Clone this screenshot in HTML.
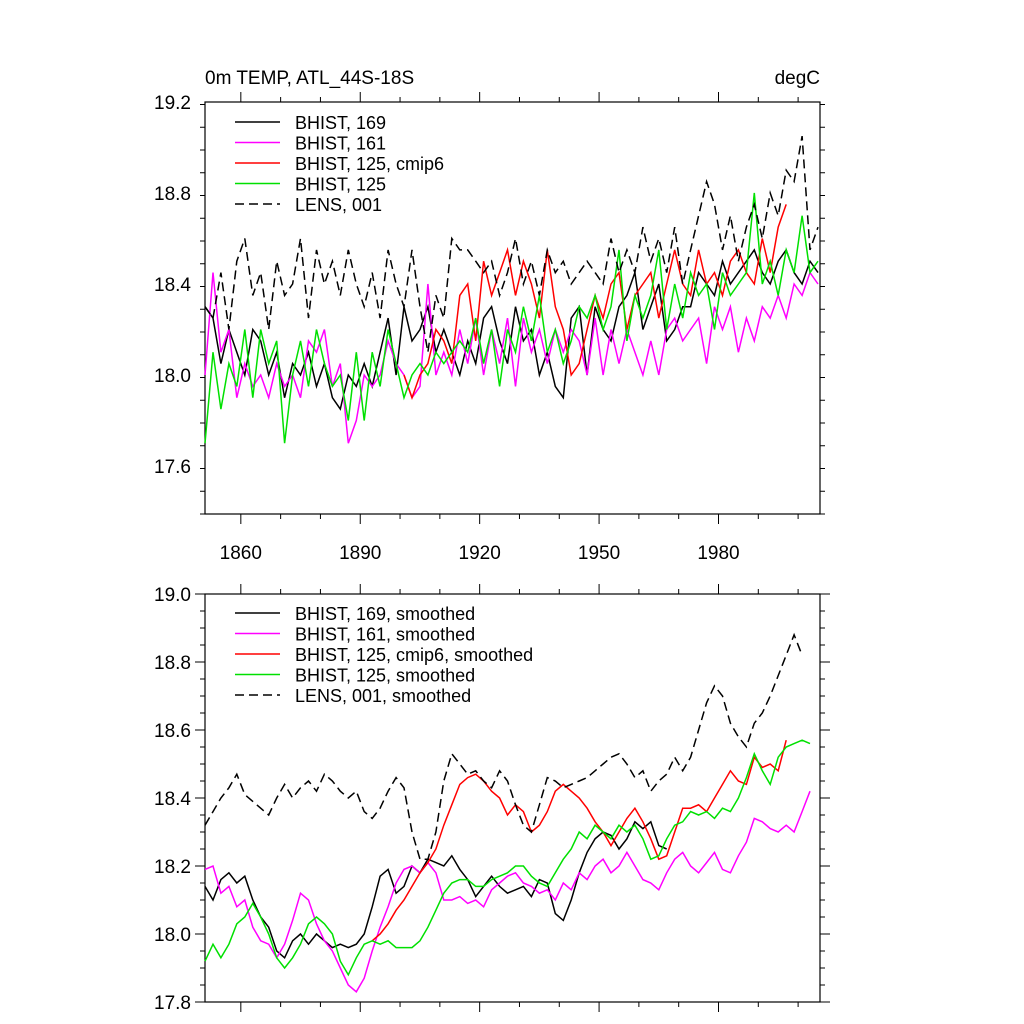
<!DOCTYPE html>
<html><head><meta charset="utf-8"><style>
body{margin:0;background:#fff;}
svg{display:block;font-family:"Liberation Sans",sans-serif;}
</style></head><body>
<svg id="chart" width="1024" height="1024" viewBox="0 0 1024 1024" xmlns="http://www.w3.org/2000/svg">
<rect x="0" y="0" width="1024" height="1024" fill="#fff"/>
<text x="205" y="84" font-size="19">0m TEMP, ATL_44S-18S</text>
<text x="820" y="84" font-size="19" text-anchor="end">degC</text>
<g id="top"></g>
<g id="bot"></g>
</svg>
<script>
const startYear = 1851, yearStep = 2;
const xTickLabels = [1860, 1890, 1920, 1950, 1980];
const topYTicks = [17.6, 18.0, 18.4, 18.8, 19.2];
const botYTicks = [17.8, 18.0, 18.2, 18.4, 18.6, 18.8, 19.0];
const N = null;
const topB169 = [18.30,18.25,18.05,18.20,18.10,18.00,18.20,18.15,18.00,18.10,
17.90,18.05,18.00,18.10,17.95,18.05,17.90,17.85,18.00,17.95,
18.05,17.95,18.10,18.25,18.00,18.30,18.15,18.20,18.30,18.10,
18.20,18.10,18.00,18.15,18.05,18.25,18.30,18.15,18.05,18.30,
18.15,18.20,18.00,18.10,17.95,17.90,18.25,18.30,18.00,18.30,
18.20,18.15,18.30,18.35,18.45,18.20,18.30,18.40,18.15,18.20,
18.30,18.30,18.45,18.40,18.35,18.50,18.40,18.45,18.50,18.55,
18.45,18.40,18.50,18.55,18.45,18.40,18.50,18.45];
const topB161 = [18.00,18.45,18.10,18.20,17.90,18.05,17.95,18.00,17.90,18.05,
17.95,18.00,17.90,18.15,18.10,18.20,17.95,18.05,17.70,17.80,
18.00,17.95,18.00,18.15,18.05,18.00,17.90,17.95,18.40,18.00,
18.10,18.00,18.20,18.05,18.25,18.00,18.20,18.05,18.25,17.95,
18.25,18.10,18.20,18.05,18.20,18.10,18.20,18.15,18.00,18.25,
18.00,18.20,18.05,18.20,18.10,18.00,18.15,18.00,18.20,18.25,
18.15,18.20,18.25,18.05,18.30,18.20,18.30,18.10,18.25,18.15,
18.30,18.25,18.35,18.25,18.40,18.35,18.45,18.40];
const topCmip6 = [N,N,N,N,N,N,N,N,N,N,N,N,N,N,N,N,N,N,N,N,N,N,N,N,N,
18.00,17.90,18.00,18.05,18.20,
18.15,18.05,18.35,18.40,18.15,18.50,18.35,18.45,18.55,18.35,
18.50,18.40,18.25,18.55,18.30,18.20,18.00,18.05,18.20,18.35,
18.25,18.40,18.45,18.20,18.35,18.40,18.45,18.25,18.40,18.55,
18.40,18.35,18.55,18.40,18.45,18.35,18.50,18.55,18.45,18.40,
18.60,18.45,18.65,18.75,N,N,N,N];
const topB125 = [17.70,18.10,17.85,18.05,17.95,18.20,17.90,18.20,18.05,18.15,
17.70,18.00,18.15,17.95,18.20,18.05,17.95,18.00,17.80,18.10,
17.80,18.10,17.95,18.20,18.05,17.90,18.00,18.05,18.00,18.10,
18.05,18.10,18.15,18.10,18.25,18.05,18.20,17.95,18.20,18.10,
18.30,18.15,18.35,18.10,18.20,18.05,18.15,18.30,18.25,18.35,
18.20,18.30,18.55,18.15,18.35,18.25,18.35,18.55,18.20,18.40,
18.25,18.45,18.35,18.40,18.20,18.45,18.35,18.40,18.45,18.80,
18.40,18.50,18.35,18.55,18.45,18.70,18.45,18.50];
const topLens = [18.30,18.25,18.45,18.20,18.50,18.60,18.35,18.45,18.20,18.50,
18.35,18.40,18.60,18.25,18.55,18.40,18.50,18.35,18.55,18.40,
18.30,18.45,18.25,18.55,18.40,18.30,18.55,18.30,18.10,18.35,
18.25,18.60,18.55,18.55,18.50,18.45,18.50,18.35,18.45,18.60,
18.40,18.50,18.35,18.55,18.45,18.50,18.40,18.45,18.50,18.45,
18.40,18.60,18.45,18.55,18.45,18.65,18.50,18.60,18.45,18.65,
18.40,18.55,18.70,18.85,18.75,18.55,18.70,18.50,18.65,18.75,
18.60,18.80,18.70,18.90,18.85,19.05,18.55,18.65];
const botB169 = [18.14,18.10,18.16,18.18,18.15,18.17,18.10,18.05,18.02,17.95,
17.93,17.98,18.00,17.97,18.00,17.98,17.96,17.97,17.96,17.97,
18.00,18.08,18.17,18.19,18.12,18.14,18.20,18.18,18.22,18.21,
18.20,18.23,18.19,18.16,18.11,18.14,18.17,18.14,18.12,18.13,
18.14,18.11,18.16,18.15,18.06,18.04,18.10,18.18,18.24,18.28,
18.30,18.29,18.25,18.28,18.33,18.31,18.33,18.26,18.25,
N,N,N,N,N,N,N,N,N,N,N,N,N,N,N,N,N,N,N];
const botB161 = [18.19,18.20,18.12,18.14,18.08,18.10,18.02,17.98,17.97,17.93,
17.97,18.04,18.12,18.10,18.03,17.98,17.95,17.90,17.85,17.83,
17.87,17.95,18.02,18.08,18.15,18.19,18.20,18.18,18.21,18.18,
18.10,18.10,18.11,18.09,18.10,18.08,18.13,18.15,18.17,18.18,
18.15,18.14,18.12,18.13,18.10,18.15,18.13,18.18,18.16,18.20,
18.22,18.18,18.20,18.24,18.20,18.16,18.15,18.13,18.18,18.22,
18.24,18.20,18.18,18.21,18.24,18.19,18.18,18.23,18.27,18.34,
18.33,18.31,18.30,18.32,18.30,18.36,18.42,N];
const botCmip6 = [N,N,N,N,N,N,N,N,N,N,N,N,N,N,N,N,N,N,N,N,N,
17.98,18.00,18.03,18.07,18.10,18.14,18.18,18.21,18.25,
18.32,18.38,18.44,18.46,18.47,18.45,18.42,18.40,18.35,18.38,
18.36,18.30,18.32,18.36,18.42,18.44,18.42,18.40,18.37,18.33,
18.30,18.26,18.30,18.34,18.37,18.33,18.28,18.22,18.23,18.30,
18.37,18.37,18.38,18.36,18.40,18.44,18.48,18.45,18.44,18.52,
18.49,18.50,18.48,18.57,N,N,N,N];
const botB125 = [17.92,17.97,17.93,17.97,18.03,18.05,18.09,18.05,18.00,17.93,
17.90,17.93,17.97,18.03,18.05,18.03,18.00,17.92,17.88,17.93,
17.97,17.98,17.97,17.98,17.96,17.96,17.96,17.98,18.02,18.07,
18.12,18.15,18.16,18.16,18.14,18.14,18.16,18.17,18.18,18.20,
18.20,18.17,18.15,18.14,18.18,18.22,18.25,18.30,18.28,18.32,
18.30,18.28,18.32,18.30,18.32,18.28,18.22,18.23,18.28,18.32,
18.33,18.36,18.35,18.36,18.34,18.37,18.36,18.40,18.46,18.53,
18.48,18.44,18.52,18.55,18.56,18.57,18.56,N];
const botLens = [18.32,18.36,18.40,18.43,18.47,18.41,18.39,18.37,18.35,18.40,
18.44,18.40,18.43,18.45,18.42,18.47,18.45,18.42,18.40,18.42,
18.36,18.34,18.37,18.42,18.46,18.43,18.30,18.22,18.22,18.30,
18.45,18.53,18.50,18.47,18.48,18.45,18.43,18.48,18.45,18.38,
18.32,18.30,18.38,18.46,18.45,18.43,18.44,18.45,18.46,18.48,
18.50,18.52,18.53,18.50,18.46,18.48,18.42,18.45,18.47,18.52,
18.48,18.52,18.60,18.68,18.73,18.70,18.62,18.58,18.55,18.62,
18.65,18.70,18.76,18.82,18.88,18.82,N,N];
const topLegend = ["BHIST, 169","BHIST, 161","BHIST, 125, cmip6","BHIST, 125","LENS, 001"];
const botLegend = ["BHIST, 169, smoothed","BHIST, 161, smoothed","BHIST, 125, cmip6, smoothed","BHIST, 125, smoothed","LENS, 001, smoothed"];

const NS = "http://www.w3.org/2000/svg";
function mk(tag, attrs, parent){const e=document.createElementNS(NS,tag);for(const k in attrs)e.setAttribute(k,attrs[k]);parent.appendChild(e);return e;}
const X0=205, X1=820, yr0=1851, yr1=2005.5;
function xs(y){return X0+(y-yr0)/(yr1-yr0)*(X1-X0);}

function panel(g, name, top, bottom, vmin, vmax, majors, minorStep, showX, seriesList, legend, legTop){
  const ys=v=>bottom-(v-vmin)/(vmax-vmin)*(bottom-top);
  const frame=mk('rect',{x:X0,y:top,width:X1-X0,height:bottom-top,fill:'none',stroke:'#000','stroke-width':1.2},g);
  
  
  // y ticks
  for(let v=vmin;v<=vmax+1e-6;v+=minorStep){
    const y=ys(v);
    const isMaj=majors.some(m=>Math.abs(m-v)<1e-6);
    const L=isMaj?10:5;
    mk('line',{x1:X0,x2:X0-L,y1:y,y2:y,stroke:'#000','stroke-width':1},g);
    mk('line',{x1:X1,x2:X1+L,y1:y,y2:y,stroke:'#000','stroke-width':1},g);
  }
  majors.forEach(v=>{
    const t=mk('text',{x:X0-14,y:ys(v)+7,'font-size':19,'text-anchor':'end'},g);
    t.textContent=v.toFixed(1);
    
    
  });
  // x ticks
  for(let yr=1860;yr<=2000;yr+=10){
    const x=xs(yr);
    const isMaj=xTickLabels.includes(yr);
    const L=isMaj?10:5;
    mk('line',{x1:x,x2:x,y1:bottom,y2:bottom+L,stroke:'#000','stroke-width':1},g);
    mk('line',{x1:x,x2:x,y1:top,y2:top-L,stroke:'#000','stroke-width':1},g);
  }
  if(showX){
    xTickLabels.forEach(yr=>{
      const t=mk('text',{x:xs(yr),y:bottom+45,'font-size':19,'text-anchor':'middle'},g);
      t.textContent=yr;
      
      
    });
  }
  const styles=[{c:'#000',d:''},{c:'#ff00ff',d:''},{c:'#ff0000',d:''},{c:'#00e000',d:''},{c:'#000',d:'9,5'}];
  const sNames=['bhist-169','bhist-161','bhist-125-cmip6','bhist-125','lens-001'];
  seriesList.forEach((arr,si)=>{
    let d='',pen=false;
    arr.forEach((v,i)=>{
      if(v===null){pen=false;return;}
      const x=xs(startYear+i*yearStep), y=ys(v);
      d+=(pen?'L':'M')+x.toFixed(1)+','+y.toFixed(1);pen=true;
    });
    const p=mk('path',{d:d,fill:'none',stroke:styles[si].c,'stroke-width':1.5,'stroke-dasharray':styles[si].d},g);
    
    
  });
  legend.forEach((lab,i)=>{
    const y=legTop+i*20.5;
    const l=mk('line',{x1:235,x2:280,y1:y,y2:y,stroke:styles[i].c,'stroke-width':1.5,'stroke-dasharray':styles[i].d},g);
    
    
    const t=mk('text',{x:295,y:y+7,'font-size':18},g);
    t.textContent=lab;
    
    
  });
}
panel(document.getElementById('top'),'top',102,514,17.389,19.2,topYTicks,0.1,true,[topB169,topB161,topCmip6,topB125,topLens],topLegend,122);
panel(document.getElementById('bot'),'bottom',594,1002,17.8,19.0,botYTicks,0.05,false,[botB169,botB161,botCmip6,botB125,botLens],botLegend,613);
</script>
</body></html>
